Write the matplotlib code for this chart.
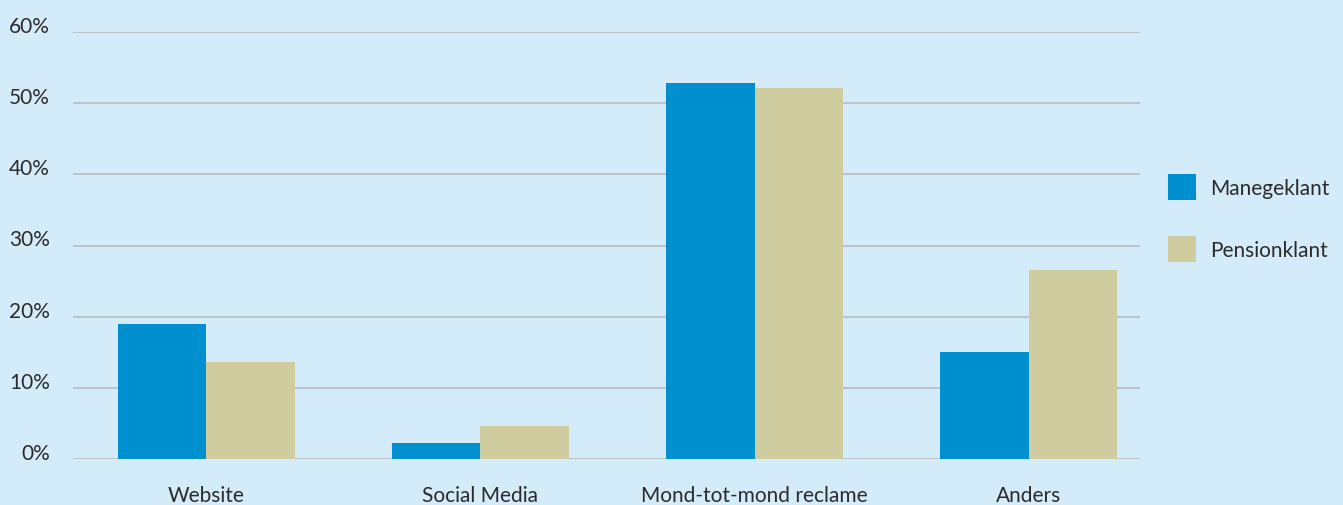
import numpy as np
import matplotlib
matplotlib.use("Agg")
import matplotlib.pyplot as plt
import matplotlib.transforms as mtransforms
from matplotlib.patches import Patch

categories = ["Website", "Social Media", "Mond-tot-mond reclame", "Anders"]
manegeklant = [18.9, 2.2, 52.8, 15.0]
pensionklant = [13.6, 4.7, 52.1, 26.5]
series_names = ["Manegeklant", "Pensionklant"]
yticks = [0, 10, 20, 30, 40, 50, 60]

BG = "#d4ebf9"
BLUE = "#0090cf"
TAN = "#cfcca0"
TXT = "#2b2b2b"

plt.rcParams["font.family"] = ["Lato", "DejaVu Sans"]

fig = plt.figure(figsize=(13.43, 5.06), dpi=100, facecolor=BG)
ax = fig.add_axes([73 / 1343, 46 / 506, (1140 - 73) / 1343, (460 - 33) / 506])
ax.set_facecolor(BG)

x = np.arange(len(categories))
w = 0.3227
ax.bar(x - w / 2, manegeklant, width=w, color=BLUE, zorder=2)
ax.bar(x + w / 2, pensionklant, width=w, color=TAN, zorder=2)

ax.set_ylim(0, 60)
ax.set_xlim(-0.485, 3.405)
ax.set_yticks(yticks)
ax.set_yticklabels([f"{v}%" for v in yticks])
ax.set_xticks(x)
ax.set_xticklabels(categories)
for s in ax.spines.values():
    s.set_visible(False)
ax.grid(axis="y", color="#b8bcc0", linewidth=1.2, zorder=1)
ax.tick_params(axis="both", length=0, colors=TXT, labelsize=15)
ax.tick_params(axis="y", pad=16.5)
ax.tick_params(axis="x", pad=19)
off = mtransforms.ScaledTranslation(0, 8 / 100, fig.dpi_scale_trans)
for lbl in ax.get_yticklabels():
    lbl.set_transform(lbl.get_transform() + off)
    lbl.set_color(TXT)

handles = [Patch(facecolor=BLUE, edgecolor="none"), Patch(facecolor=TAN, edgecolor="none")]
leg = fig.legend(handles, series_names, loc="center left",
                 bbox_to_anchor=(1149 / 1343, 1 - 219 / 506), frameon=False,
                 fontsize=15, handlelength=1.35, handleheight=1.6,
                 labelspacing=1.7, handletextpad=0.7, labelcolor=TXT)

fig.savefig("out.png", dpi=100, facecolor=BG)
